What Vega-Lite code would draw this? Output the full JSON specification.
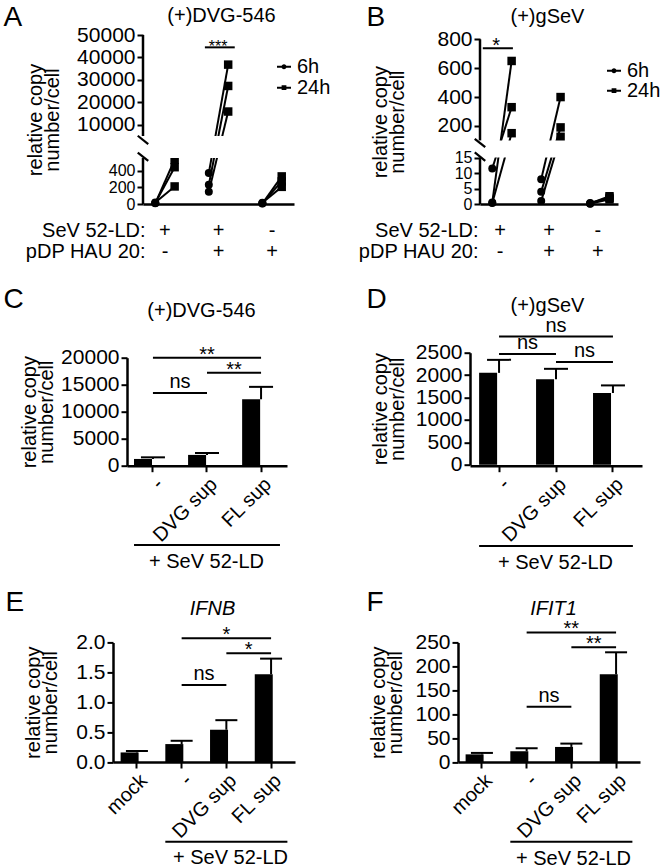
{
  "$schema": "https://vega.github.io/schema/vega-lite/v6.json",
  "padding": {"left": 3, "top": 3, "right": 0, "bottom": 0},
  "columns": 2,
  "bounds": "flush",
  "spacing": {"row": 148.7, "column": 163},
  "resolve": {"scale": {"shape": "independent"}, "legend": {"shape": "independent"}},
  "config": {
    "font": "Liberation Sans",
    "view": {"stroke": null},
    "axis": {"domainColor": "black", "domainWidth": 2.5, "tickColor": "black", "tickWidth": 2, "tickSize": 6, "labelColor": "black", "labelFontSize": 20, "labelPadding": 2, "titleColor": "black", "titleFontSize": 20, "titleFontWeight": "normal", "grid": false, "labelOverlap": false},
    "axisY": {"labelFontSize": 21},
    "legend": {"labelFontSize": 20, "labelColor": "black"},
    "text": {"color": "black", "fontSize": 20},
    "rule": {"color": "black", "strokeWidth": 2},
    "bar": {"color": "black"}
  },
  "datasets": {
    "A": [
      {"cond": "+/-", "time": "6h", "rep": 1, "value": 8}, {"cond": "+/-", "time": "24h", "rep": 1, "value": 530},
      {"cond": "+/-", "time": "6h", "rep": 2, "value": 12}, {"cond": "+/-", "time": "24h", "rep": 2, "value": 440},
      {"cond": "+/-", "time": "6h", "rep": 3, "value": 18}, {"cond": "+/-", "time": "24h", "rep": 3, "value": 210},
      {"cond": "+/+", "time": "6h", "rep": 1, "value": 370}, {"cond": "+/+", "time": "24h", "rep": 1, "value": 36800},
      {"cond": "+/+", "time": "6h", "rep": 2, "value": 230}, {"cond": "+/+", "time": "24h", "rep": 2, "value": 27300},
      {"cond": "+/+", "time": "6h", "rep": 3, "value": 145}, {"cond": "+/+", "time": "24h", "rep": 3, "value": 15900},
      {"cond": "-/+", "time": "6h", "rep": 1, "value": 6}, {"cond": "-/+", "time": "24h", "rep": 1, "value": 330},
      {"cond": "-/+", "time": "6h", "rep": 2, "value": 10}, {"cond": "-/+", "time": "24h", "rep": 2, "value": 270},
      {"cond": "-/+", "time": "6h", "rep": 3, "value": 14}, {"cond": "-/+", "time": "24h", "rep": 3, "value": 205}
    ],
    "B": [
      {"cond": "+/-", "time": "6h", "rep": 1, "value": 0.5}, {"cond": "+/-", "time": "24h", "rep": 1, "value": 650},
      {"cond": "+/-", "time": "6h", "rep": 2, "value": 11.5}, {"cond": "+/-", "time": "24h", "rep": 2, "value": 330},
      {"cond": "+/-", "time": "6h", "rep": 3, "value": 0.3}, {"cond": "+/-", "time": "24h", "rep": 3, "value": 150},
      {"cond": "+/+", "time": "6h", "rep": 1, "value": 8}, {"cond": "+/+", "time": "24h", "rep": 1, "value": 400},
      {"cond": "+/+", "time": "6h", "rep": 2, "value": 4}, {"cond": "+/+", "time": "24h", "rep": 2, "value": 190},
      {"cond": "+/+", "time": "6h", "rep": 3, "value": 1}, {"cond": "+/+", "time": "24h", "rep": 3, "value": 125},
      {"cond": "-/+", "time": "6h", "rep": 1, "value": 0.2}, {"cond": "-/+", "time": "24h", "rep": 1, "value": 2.5},
      {"cond": "-/+", "time": "6h", "rep": 2, "value": 0.3}, {"cond": "-/+", "time": "24h", "rep": 2, "value": 2.0},
      {"cond": "-/+", "time": "6h", "rep": 3, "value": 0.1}, {"cond": "-/+", "time": "24h", "rep": 3, "value": 1.5}
    ],
    "C": [
      {"cond": "-", "mean": 1250, "upper": 1550},
      {"cond": "DVG sup", "mean": 2000, "upper": 2350},
      {"cond": "FL sup", "mean": 12300, "upper": 14600}
    ],
    "Cb": [
      {"a": "-", "b": "FL sup", "y": 20000},
      {"a": "DVG sup", "b": "FL sup", "y": 17200},
      {"a": "-", "b": "DVG sup", "y": 13450}
    ],
    "D": [
      {"cond": "-", "mean": 2050, "upper": 2340},
      {"cond": "DVG sup", "mean": 1910, "upper": 2140},
      {"cond": "FL sup", "mean": 1600, "upper": 1770}
    ],
    "Db": [
      {"a": "-", "b": "FL sup", "y": 2860},
      {"a": "-", "b": "DVG sup", "y": 2470},
      {"a": "DVG sup", "b": "FL sup", "y": 2290}
    ],
    "E": [
      {"cond": "mock", "mean": 0.16, "upper": 0.185},
      {"cond": "-", "mean": 0.30, "upper": 0.355},
      {"cond": "DVG sup", "mean": 0.54, "upper": 0.70},
      {"cond": "FL sup", "mean": 1.47, "upper": 1.73}
    ],
    "Eb": [
      {"a": "-", "b": "FL sup", "y": 2.07},
      {"a": "DVG sup", "b": "FL sup", "y": 1.82},
      {"a": "-", "b": "DVG sup", "y": 1.29}
    ],
    "F": [
      {"cond": "mock", "mean": 16, "upper": 19},
      {"cond": "-", "mean": 22.5, "upper": 29},
      {"cond": "DVG sup", "mean": 31.5, "upper": 38.5},
      {"cond": "FL sup", "mean": 183.5, "upper": 229.5}
    ],
    "Fb": [
      {"a": "-", "b": "FL sup", "y": 271},
      {"a": "DVG sup", "b": "FL sup", "y": 240},
      {"a": "-", "b": "DVG sup", "y": 115.5}
    ]
  },
  "concat": [
    {
      "width": 182, "height": 169,
      "data": {"name": "A"},
      "resolve": {"axis": {"x": "independent", "y": "independent"}},
      "layer": [
        {
          "mark": {"type": "line", "color": "black", "strokeWidth": 2},
          "encoding": {
            "x": {"field": "cond", "type": "nominal",
              "scale": {"domain": ["+/-", "+/+", "-/+"], "range": [30, 181], "paddingInner": 0.18, "paddingOuter": 0},
              "axis": {"orient": "bottom", "ticks": false, "labelAngle": 0, "labelExpr": "split(datum.value, '/')", "labelPadding": 16, "labelLineHeight": 21, "labelBaseline": "top", "labelAlign": "center", "title": ["SeV 52-LD:", "pDP HAU 20:"], "titleX": 32, "titleY": 16, "titleAlign": "right", "titleBaseline": "top", "titleLineHeight": 21, "titleAngle": 0}},
            "xOffset": {"field": "time", "type": "nominal", "scale": {"type": "point", "domain": ["6h", "24h"], "padding": 0.634}},
            "y": {"field": "value", "type": "quantitative",
              "scale": {"domain": [0, 550, 5000, 50000], "range": [169, 123, 101, 0], "nice": false, "zero": false},
              "axis": {"orient": "left", "values": [0, 200, 400, 10000, 20000, 30000, 40000, 50000], "format": "d", "domain": false, "offset": -30, "labelFontSize": {"condition": {"test": "datum.value <= 400", "value": 16}, "value": 21}, "title": ["relative copy", "number/cell"], "titleX": -98, "titleLineHeight": 17}},
            "detail": [{"field": "cond"}, {"field": "rep"}]
          }
        },
        {
          "transform": [{"filter": "datum.time === '6h'"}],
          "mark": {"type": "point", "shape": "circle", "filled": true, "color": "black", "opacity": 1, "size": 64},
          "encoding": {
            "x": {"field": "cond", "type": "nominal", "axis": {"orient": "top", "domain": false, "ticks": false, "labels": false, "title": "A", "titleX": -110, "titleY": -10, "titleAlign": "left", "titleBaseline": "alphabetic", "titleFontSize": 28, "titleAngle": 0}},
            "xOffset": {"field": "time", "type": "nominal"},
            "y": {"field": "value", "type": "quantitative", "axis": null}
          }
        },
        {
          "transform": [{"filter": "datum.time === '24h'"}],
          "mark": {"type": "point", "shape": "square", "filled": true, "color": "black", "opacity": 1, "size": 72},
          "encoding": {
            "x": {"field": "cond", "type": "nominal", "axis": null},
            "xOffset": {"field": "time", "type": "nominal"},
            "y": {"field": "value", "type": "quantitative", "axis": null}
          }
        },
        {
          "transform": [{"filter": "datum.rep === 1"}],
          "mark": {"type": "point", "fill": "black", "stroke": "black", "strokeWidth": 0, "opacity": 0},
          "encoding": {
            "shape": {"field": "time", "type": "nominal",
              "scale": {"domain": ["6h", "24h"], "range": ["M-1,-0.14H1V0.14H-1ZM0.36,0A0.36,0.36,0,1,1,-0.36,0A0.36,0.36,0,1,1,0.36,0Z", "M-1,-0.14H1V0.14H-1ZM-0.34,-0.34H0.34V0.34H-0.34Z"]},
              "legend": {"orient": "none", "legendX": 161, "legendY": 21.7, "title": null, "padding": 0, "symbolSize": 196, "symbolOpacity": 1, "symbolFillColor": "black", "symbolStrokeWidth": 0, "labelFontSize": 20, "labelOffset": 3, "rowPadding": 1}}
          }
        },
        {
          "data": {"values": [{}]},
          "mark": {"type": "rect", "color": "white"},
          "encoding": {"x": {"datum": "+/-", "bandPosition": 0, "axis": null}, "x2": {"datum": "-/+", "bandPosition": 1}, "y": {"datum": 550, "axis": null}, "y2": {"datum": 5000}}
        },
        {
          "data": {"values": [{"lo": 0, "hi": 550}, {"lo": 5000, "hi": 50000}]},
          "mark": {"type": "rule", "strokeWidth": 2.5, "color": "black"},
          "encoding": {"x": {"datum": "+/-", "bandPosition": 0, "axis": null}, "y": {"field": "lo", "type": "quantitative", "axis": null}, "y2": {"field": "hi"}}
        },
        {
          "data": {"values": [{"v": 4200}, {"v": 800}]},
          "mark": {"type": "point", "shape": "M-1,-0.8L1,0.8", "size": 110, "filled": false, "stroke": "black", "strokeWidth": 2.2, "opacity": 1},
          "encoding": {"x": {"datum": "+/-", "bandPosition": 0, "axis": null}, "y": {"field": "v", "type": "quantitative", "axis": null}}
        },
        {
          "data": {"values": [{}]},
          "mark": {"type": "rule", "strokeWidth": 2},
          "encoding": {
            "x": {"datum": "+/+", "bandPosition": 0.19, "axis": {"orient": "top", "domain": false, "ticks": false, "labels": false, "title": "(+)DVG-546", "titleX": 108, "titleY": -20, "titleAlign": "center", "titleBaseline": "middle", "titleAngle": 0}},
            "x2": {"datum": "+/+", "bandPosition": 0.87},
            "y": {"datum": 44500, "axis": null}
          }
        },
        {
          "data": {"values": [{}]},
          "mark": {"type": "text", "text": "***", "fontSize": 16, "baseline": "alphabetic", "dy": 5},
          "encoding": {"x": {"datum": "+/+", "bandPosition": 0.49, "axis": null}, "y": {"datum": 44500, "axis": null}}
        }
      ]
    },
    {
      "width": 184, "height": 169,
      "data": {"name": "B"},
      "resolve": {"axis": {"x": "independent", "y": "independent"}},
      "layer": [
        {
          "mark": {"type": "line", "color": "black", "strokeWidth": 2},
          "encoding": {
            "x": {"field": "cond", "type": "nominal",
              "scale": {"domain": ["+/-", "+/+", "-/+"], "range": [22, 160], "paddingInner": 0.18, "paddingOuter": 0},
              "axis": {"orient": "bottom", "ticks": false, "labelAngle": 0, "labelExpr": "split(datum.value, '/')", "labelPadding": 16, "labelLineHeight": 21, "labelBaseline": "top", "labelAlign": "center", "title": ["SeV 52-LD:", "pDP HAU 20:"], "titleX": 20, "titleY": 16, "titleAlign": "right", "titleBaseline": "top", "titleLineHeight": 21, "titleAngle": 0}},
            "xOffset": {"field": "time", "type": "nominal", "scale": {"type": "point", "domain": ["6h", "24h"], "padding": 0.5}},
            "y": {"field": "value", "type": "quantitative",
              "scale": {"domain": [0, 15, 100, 800], "range": [169, 122.6, 105.4, 4.3], "nice": false, "zero": false},
              "axis": {"orient": "left", "values": [0, 5, 10, 15, 200, 400, 600, 800], "format": "d", "domain": false, "offset": -22, "labelFontSize": {"condition": {"test": "datum.value <= 15", "value": 16}, "value": 21}, "title": ["relative copy", "number/cell"], "titleX": -90, "titleLineHeight": 17}},
            "detail": [{"field": "cond"}, {"field": "rep"}]
          }
        },
        {
          "transform": [{"filter": "datum.time === '6h'"}],
          "mark": {"type": "point", "shape": "circle", "filled": true, "color": "black", "opacity": 1, "size": 64},
          "encoding": {
            "x": {"field": "cond", "type": "nominal", "axis": {"orient": "top", "domain": false, "ticks": false, "labels": false, "title": "B", "titleX": -92, "titleY": -10, "titleAlign": "left", "titleBaseline": "alphabetic", "titleFontSize": 28, "titleAngle": 0}},
            "xOffset": {"field": "time", "type": "nominal"},
            "y": {"field": "value", "type": "quantitative", "axis": null}
          }
        },
        {
          "transform": [{"filter": "datum.time === '24h'"}],
          "mark": {"type": "point", "shape": "square", "filled": true, "color": "black", "opacity": 1, "size": 72},
          "encoding": {
            "x": {"field": "cond", "type": "nominal", "axis": null},
            "xOffset": {"field": "time", "type": "nominal"},
            "y": {"field": "value", "type": "quantitative", "axis": null}
          }
        },
        {
          "transform": [{"filter": "datum.rep === 1"}],
          "mark": {"type": "point", "fill": "black", "stroke": "black", "strokeWidth": 0, "opacity": 0},
          "encoding": {
            "shape": {"field": "time", "type": "nominal",
              "scale": {"domain": ["6h", "24h"], "range": ["M-1,-0.14H1V0.14H-1ZM0.36,0A0.36,0.36,0,1,1,-0.36,0A0.36,0.36,0,1,1,0.36,0Z", "M-1,-0.14H1V0.14H-1ZM-0.34,-0.34H0.34V0.34H-0.34Z"]},
              "legend": {"orient": "none", "legendX": 146, "legendY": 25.7, "title": null, "padding": 0, "symbolSize": 196, "symbolOpacity": 1, "symbolFillColor": "black", "symbolStrokeWidth": 0, "labelFontSize": 20, "labelOffset": 3, "rowPadding": 0}}
          }
        },
        {
          "data": {"values": [{}]},
          "mark": {"type": "rect", "color": "white"},
          "encoding": {"x": {"datum": "+/-", "bandPosition": 0, "axis": null}, "x2": {"datum": "-/+", "bandPosition": 1}, "y": {"datum": 15, "axis": null}, "y2": {"datum": 100}}
        },
        {
          "data": {"values": [{"lo": 0, "hi": 15}, {"lo": 100, "hi": 800}]},
          "mark": {"type": "rule", "strokeWidth": 2.5, "color": "black"},
          "encoding": {"x": {"datum": "+/-", "bandPosition": 0, "axis": null}, "y": {"field": "lo", "type": "quantitative", "axis": null}, "y2": {"field": "hi"}}
        },
        {
          "data": {"values": [{"v": 87}, {"v": 20}]},
          "mark": {"type": "point", "shape": "M-1,-0.8L1,0.8", "size": 110, "filled": false, "stroke": "black", "strokeWidth": 2.2, "opacity": 1},
          "encoding": {"x": {"datum": "+/-", "bandPosition": 0, "axis": null}, "y": {"field": "v", "type": "quantitative", "axis": null}}
        },
        {
          "data": {"values": [{}]},
          "mark": {"type": "rule", "strokeWidth": 2},
          "encoding": {
            "x": {"datum": "+/-", "bandPosition": 0.07, "axis": {"orient": "top", "domain": false, "ticks": false, "labels": false, "title": "(+)gSeV", "titleX": 89, "titleY": -18.5, "titleAlign": "center", "titleBaseline": "middle", "titleAngle": 0}},
            "x2": {"datum": "+/-", "bandPosition": 0.82},
            "y": {"datum": 738, "axis": null}
          }
        },
        {
          "data": {"values": [{}]},
          "mark": {"type": "text", "text": "*", "fontSize": 20, "baseline": "alphabetic", "dy": 4},
          "encoding": {"x": {"datum": "+/-", "bandPosition": 0.4, "axis": null}, "y": {"datum": 738, "axis": null}}
        }
      ]
    },
    {
      "width": 182, "height": 113,
      "data": {"name": "C"},
      "resolve": {"axis": {"x": "independent", "y": "independent"}},
      "layer": [
        {
          "mark": {"type": "bar", "color": "black"},
          "encoding": {
            "x": {"field": "cond", "type": "nominal",
              "scale": {"domain": ["-", "DVG sup", "FL sup"], "range": [14, 174], "paddingInner": 0.3, "paddingOuter": 0.13},
              "axis": {"orient": "bottom", "labelAngle": -45, "title": "+ SeV 52-LD", "titleX": 93, "titleY": 96, "titleAlign": "center", "titleBaseline": "middle", "titleAngle": 0}},
            "y": {"field": "mean", "type": "quantitative",
              "scale": {"domain": [0, 20000], "range": [113, 5], "nice": false},
              "axis": {"orient": "left", "values": [0, 5000, 10000, 15000, 20000], "format": "d", "offset": -14, "title": ["relative copy", "number/cell"], "titleX": -88, "titleLineHeight": 17}}
          }
        },
        {
          "mark": {"type": "rule", "strokeWidth": 2},
          "encoding": {"x": {"field": "cond", "type": "nominal", "axis": null}, "y": {"field": "mean", "type": "quantitative", "axis": null}, "y2": {"field": "upper"}}
        },
        {
          "mark": {"type": "tick", "orient": "horizontal", "size": 24, "thickness": 2, "color": "black", "opacity": 1},
          "encoding": {"x": {"field": "cond", "type": "nominal", "axis": null}, "y": {"field": "upper", "type": "quantitative", "axis": null}}
        },
        {
          "data": {"name": "Cb"},
          "mark": {"type": "rule", "strokeWidth": 2},
          "encoding": {
            "x": {"field": "a", "type": "nominal", "axis": {"orient": "top", "domain": false, "ticks": false, "labels": false, "title": "(+)DVG-546", "titleX": 88, "titleY": -42.7, "titleAlign": "center", "titleBaseline": "middle", "titleAngle": 0}},
            "x2": {"field": "b"},
            "y": {"field": "y", "type": "quantitative", "axis": null}
          }
        },
        {
          "data": {"values": [{}]},
          "mark": {"type": "text", "text": "**", "baseline": "alphabetic", "dy": 3},
          "encoding": {"x": {"datum": "DVG sup", "bandPosition": 0.5, "axis": {"orient": "top", "domain": false, "ticks": false, "labels": false, "title": "C", "titleX": -110, "titleY": -45, "titleAlign": "left", "titleBaseline": "alphabetic", "titleFontSize": 28, "titleAngle": 0}}, "y": {"datum": 20000, "axis": null}}
        },
        {
          "data": {"values": [{}]},
          "mark": {"type": "text", "text": "**", "baseline": "alphabetic", "dy": 3},
          "encoding": {"x": {"datum": "DVG sup", "bandPosition": 1.215, "axis": null}, "y": {"datum": 17200, "axis": null}}
        },
        {
          "data": {"values": [{}]},
          "mark": {"type": "text", "text": "ns", "baseline": "alphabetic", "dy": -5},
          "encoding": {"x": {"datum": "-", "bandPosition": 1.215, "axis": null}, "y": {"datum": 13450, "axis": null}}
        },
        {
          "data": {"values": [{}]},
          "mark": {"type": "rule", "strokeWidth": 2},
          "encoding": {"x": {"datum": "-", "bandPosition": 0, "axis": null}, "x2": {"datum": "FL sup", "bandPosition": 1}, "y": {"datum": -14700, "axis": null}}
        }
      ]
    },
    {
      "width": 184, "height": 113,
      "data": {"name": "D"},
      "resolve": {"axis": {"x": "independent", "y": "independent"}},
      "layer": [
        {
          "mark": {"type": "bar", "color": "black"},
          "encoding": {
            "x": {"field": "cond", "type": "nominal",
              "scale": {"domain": ["-", "DVG sup", "FL sup"], "range": [12, 184], "paddingInner": 0.3, "paddingOuter": 0.16},
              "axis": {"orient": "bottom", "labelAngle": -45, "title": "+ SeV 52-LD", "titleX": 97, "titleY": 97, "titleAlign": "center", "titleBaseline": "middle", "titleAngle": 0}},
            "y": {"field": "mean", "type": "quantitative",
              "scale": {"domain": [0, 2500], "range": [112, 0], "nice": false},
              "axis": {"orient": "left", "values": [0, 500, 1000, 1500, 2000, 2500], "format": "d", "offset": -12, "title": ["relative copy", "number/cell"], "titleX": -80, "titleLineHeight": 17}}
          }
        },
        {
          "mark": {"type": "rule", "strokeWidth": 2},
          "encoding": {"x": {"field": "cond", "type": "nominal", "axis": null}, "y": {"field": "mean", "type": "quantitative", "axis": null}, "y2": {"field": "upper"}}
        },
        {
          "mark": {"type": "tick", "orient": "horizontal", "size": 24, "thickness": 2, "color": "black", "opacity": 1},
          "encoding": {"x": {"field": "cond", "type": "nominal", "axis": null}, "y": {"field": "upper", "type": "quantitative", "axis": null}}
        },
        {
          "data": {"name": "Db"},
          "mark": {"type": "rule", "strokeWidth": 2},
          "encoding": {
            "x": {"field": "a", "type": "nominal", "axis": {"orient": "top", "domain": false, "ticks": false, "labels": false, "title": "(+)gSeV", "titleX": 89, "titleY": -47.7, "titleAlign": "center", "titleBaseline": "middle", "titleAngle": 0}},
            "x2": {"field": "b"},
            "y": {"field": "y", "type": "quantitative", "axis": null}
          }
        },
        {
          "data": {"values": [{}]},
          "mark": {"type": "text", "text": "ns", "baseline": "alphabetic", "dy": -5},
          "encoding": {"x": {"datum": "DVG sup", "bandPosition": 0.5, "axis": {"orient": "top", "domain": false, "ticks": false, "labels": false, "title": "D", "titleX": -92, "titleY": -45.7, "titleAlign": "left", "titleBaseline": "alphabetic", "titleFontSize": 28, "titleAngle": 0}}, "y": {"datum": 2860, "axis": null}}
        },
        {
          "data": {"values": [{}]},
          "mark": {"type": "text", "text": "ns", "baseline": "alphabetic", "dy": -5},
          "encoding": {"x": {"datum": "-", "bandPosition": 1.214, "axis": null}, "y": {"datum": 2470, "axis": null}}
        },
        {
          "data": {"values": [{}]},
          "mark": {"type": "text", "text": "ns", "baseline": "alphabetic", "dy": -5},
          "encoding": {"x": {"datum": "DVG sup", "bandPosition": 1.214, "axis": null}, "y": {"datum": 2290, "axis": null}}
        },
        {
          "data": {"values": [{}]},
          "mark": {"type": "rule", "strokeWidth": 2},
          "encoding": {"x": {"datum": "-", "bandPosition": 0, "axis": null}, "x2": {"datum": "FL sup", "bandPosition": 1}, "y": {"datum": -1815, "axis": null}}
        }
      ]
    },
    {
      "width": 182, "height": 147.6,
      "data": {"name": "E"},
      "resolve": {"axis": {"x": "independent", "y": "independent"}},
      "layer": [
        {
          "mark": {"type": "bar", "color": "black"},
          "encoding": {
            "x": {"field": "cond", "type": "nominal",
              "scale": {"domain": ["mock", "-", "DVG sup", "FL sup"], "range": [0, 182], "paddingInner": 0.27, "paddingOuter": 0.17},
              "axis": {"orient": "bottom", "labelAngle": -45, "title": "+ SeV 52-LD", "titleX": 117, "titleY": 95, "titleAlign": "center", "titleBaseline": "middle", "titleAngle": 0}},
            "y": {"field": "mean", "type": "quantitative",
              "scale": {"domain": [0, 2], "range": [147.6, 28.1], "nice": false},
              "axis": {"orient": "left", "values": [0, 0.5, 1, 1.5, 2], "format": ".1f", "title": ["relative copy", "number/cell"], "titleX": -70, "titleLineHeight": 17}}
          }
        },
        {
          "mark": {"type": "rule", "strokeWidth": 2},
          "encoding": {"x": {"field": "cond", "type": "nominal", "axis": null}, "y": {"field": "mean", "type": "quantitative", "axis": null}, "y2": {"field": "upper"}}
        },
        {
          "mark": {"type": "tick", "orient": "horizontal", "size": 22, "thickness": 2, "color": "black", "opacity": 1},
          "encoding": {"x": {"field": "cond", "type": "nominal", "axis": null}, "y": {"field": "upper", "type": "quantitative", "axis": null}}
        },
        {
          "data": {"name": "Eb"},
          "mark": {"type": "rule", "strokeWidth": 2},
          "encoding": {
            "x": {"field": "a", "type": "nominal", "axis": {"orient": "top", "domain": false, "ticks": false, "labels": false, "title": "IFNB", "titleFontStyle": "italic", "titleX": 99, "titleY": -6, "titleAlign": "center", "titleBaseline": "middle", "titleAngle": 0}},
            "x2": {"field": "b"},
            "y": {"field": "y", "type": "quantitative", "axis": null}
          }
        },
        {
          "data": {"values": [{}]},
          "mark": {"type": "text", "text": "*", "baseline": "alphabetic", "dy": 3},
          "encoding": {"x": {"datum": "DVG sup", "bandPosition": 0.5, "axis": {"orient": "top", "domain": false, "ticks": false, "labels": false, "title": "E", "titleX": -108, "titleY": -4.4, "titleAlign": "left", "titleBaseline": "alphabetic", "titleFontSize": 28, "titleAngle": 0}}, "y": {"datum": 2.07, "axis": null}}
        },
        {
          "data": {"values": [{}]},
          "mark": {"type": "text", "text": "*", "baseline": "alphabetic", "dy": 3},
          "encoding": {"x": {"datum": "DVG sup", "bandPosition": 1.185, "axis": null}, "y": {"datum": 1.82, "axis": null}}
        },
        {
          "data": {"values": [{}]},
          "mark": {"type": "text", "text": "ns", "baseline": "alphabetic", "dy": -5},
          "encoding": {"x": {"datum": "-", "bandPosition": 1.185, "axis": null}, "y": {"datum": 1.29, "axis": null}}
        },
        {
          "data": {"values": [{}]},
          "mark": {"type": "rule", "strokeWidth": 2},
          "encoding": {"x": {"datum": "-", "bandPosition": 0, "axis": null}, "x2": {"datum": "FL sup", "bandPosition": 1}, "y": {"datum": -1.334, "axis": null}}
        }
      ]
    },
    {
      "width": 182, "height": 147.6,
      "data": {"name": "F"},
      "resolve": {"axis": {"x": "independent", "y": "independent"}},
      "layer": [
        {
          "mark": {"type": "bar", "color": "black"},
          "encoding": {
            "x": {"field": "cond", "type": "nominal",
              "scale": {"domain": ["mock", "-", "DVG sup", "FL sup"], "range": [0, 182], "paddingInner": 0.27, "paddingOuter": 0.17},
              "axis": {"orient": "bottom", "labelAngle": -45, "title": "+ SeV 52-LD", "titleX": 115, "titleY": 96, "titleAlign": "center", "titleBaseline": "middle", "titleAngle": 0}},
            "y": {"field": "mean", "type": "quantitative",
              "scale": {"domain": [0, 250], "range": [147.6, 28.1], "nice": false},
              "axis": {"orient": "left", "values": [0, 50, 100, 150, 200, 250], "format": "d", "title": ["relative copy", "number/cell"], "titleX": -70, "titleLineHeight": 17}}
          }
        },
        {
          "mark": {"type": "rule", "strokeWidth": 2},
          "encoding": {"x": {"field": "cond", "type": "nominal", "axis": null}, "y": {"field": "mean", "type": "quantitative", "axis": null}, "y2": {"field": "upper"}}
        },
        {
          "mark": {"type": "tick", "orient": "horizontal", "size": 22, "thickness": 2, "color": "black", "opacity": 1},
          "encoding": {"x": {"field": "cond", "type": "nominal", "axis": null}, "y": {"field": "upper", "type": "quantitative", "axis": null}}
        },
        {
          "data": {"name": "Fb"},
          "mark": {"type": "rule", "strokeWidth": 2},
          "encoding": {
            "x": {"field": "a", "type": "nominal", "axis": {"orient": "top", "domain": false, "ticks": false, "labels": false, "title": "IFIT1", "titleFontStyle": "italic", "titleX": 95, "titleY": -6, "titleAlign": "center", "titleBaseline": "middle", "titleAngle": 0}},
            "x2": {"field": "b"},
            "y": {"field": "y", "type": "quantitative", "axis": null}
          }
        },
        {
          "data": {"values": [{}]},
          "mark": {"type": "text", "text": "**", "baseline": "alphabetic", "dy": 3},
          "encoding": {"x": {"datum": "DVG sup", "bandPosition": 0.5, "axis": {"orient": "top", "domain": false, "ticks": false, "labels": false, "title": "F", "titleX": -92, "titleY": -4.4, "titleAlign": "left", "titleBaseline": "alphabetic", "titleFontSize": 28, "titleAngle": 0}}, "y": {"datum": 271, "axis": null}}
        },
        {
          "data": {"values": [{}]},
          "mark": {"type": "text", "text": "**", "baseline": "alphabetic", "dy": 3},
          "encoding": {"x": {"datum": "DVG sup", "bandPosition": 1.185, "axis": null}, "y": {"datum": 240, "axis": null}}
        },
        {
          "data": {"values": [{}]},
          "mark": {"type": "text", "text": "ns", "baseline": "alphabetic", "dy": -5},
          "encoding": {"x": {"datum": "-", "bandPosition": 1.185, "axis": null}, "y": {"datum": 115.5, "axis": null}}
        },
        {
          "data": {"values": [{}]},
          "mark": {"type": "rule", "strokeWidth": 2},
          "encoding": {"x": {"datum": "-", "bandPosition": 0, "axis": null}, "x2": {"datum": "FL sup", "bandPosition": 1}, "y": {"datum": -166.7, "axis": null}}
        }
      ]
    }
  ]
}
